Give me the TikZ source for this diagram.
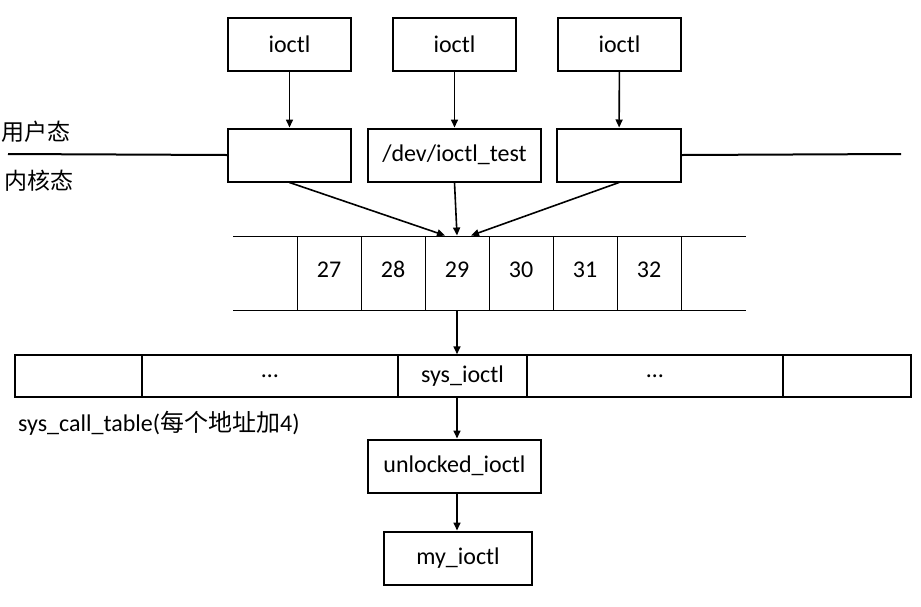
\documentclass[tikz,border=0pt]{standalone}
\usepackage{fontspec}
\setmainfont{Carlito}
\newfontfamily\cjk{Noto Sans CJK SC}
\usetikzlibrary{arrows.meta}
\begin{document}
\begin{tikzpicture}[x=1pt,y=-1pt,
  box/.style={draw, line width=2pt, inner sep=0pt, minimum height=53pt, font=\fontsize{24}{28}\selectfont},
  cell/.style={draw, line width=1pt, inner sep=0pt, minimum width=64pt, minimum height=74pt, text height=2ex, text depth=0pt, font=\fontsize{24}{28}\selectfont},
  slot/.style={draw, line width=1.5pt, inner sep=0pt, minimum height=42pt, font=\fontsize{24}{28}\selectfont},
  arr/.style={-{Triangle[length=8pt,width=7pt]}, line width=1.6pt}]
\useasboundingbox (0,0) rectangle (921,606);
% user space calls
\node[box, minimum width=123pt] (u1) at (289.5,44.5) {ioctl};
\node[box, minimum width=123pt] (u2) at (454.5,44.5) {ioctl};
\node[box, minimum width=123pt] (u3) at (619.5,44.5) {ioctl};
\node[box, minimum width=123pt] (k1) at (289.5,155) {};
\node[box, minimum width=173pt] (k2) at (454.5,155) {/dev/ioctl\_test};
\node[box, minimum width=124pt] (k3) at (619,155) {};
\coordinate (l0) at (8,154);
\coordinate (r0) at (901,154);
\draw[line width=2pt] (l0) -- (k1.west);
\draw[line width=2pt] (k3.east) -- (r0);
\node[font=\cjk\fontsize{23}{26}\selectfont, anchor=west, inner sep=0pt] (us) at (1,132) {用户态};
\node[font=\cjk\fontsize{23}{26}\selectfont, anchor=west, inner sep=0pt] (ks) at (4,181) {内核态};
\draw[arr] (u1) -- (k1);
\draw[arr] (u2) -- (k2);
\draw[arr] (u3) -- (k3);
% syscall numbers
\coordinate (t0) at (233,236);
\coordinate (t1) at (746,236);
\coordinate (b0) at (233,310);
\coordinate (b1) at (746,310);
\draw[line width=1pt] (t0) -- (t1);
\draw[line width=1pt] (b0) -- (b1);
\foreach \n in {27,...,32} \node[cell] (c\n) at ({329+64*(\n-27)},273) {\n};
\draw[arr] (k1.south) -- ([xshift=-12pt]c29.north);
\draw[arr] (k2.south) -- (c29.north);
\draw[arr] (k3.south) -- ([xshift=14pt]c29.north);
% sys_call_table
\node[slot, minimum width=127pt] (s1) at (78.5,376) {};
\node[slot, minimum width=256pt] (s2) at (270,376) {\dots};
\node[slot, minimum width=129pt] (s3) at (462.5,376) {sys\_ioctl};
\node[slot, minimum width=256pt] (s4) at (655,376) {\dots};
\node[slot, minimum width=128pt] (s5) at (847,376) {};
\node[anchor=west, inner sep=0pt, font=\fontsize{24}{28}\selectfont] (tab) at (18,423) {sys\_call\_table({\cjk\fontsize{24}{28}\selectfont 每个地址加}4)};
\draw[arr] (c29.south) -- (c29.south |- s3.north);
\node[box, minimum width=173pt] (ul) at (454.5,466) {unlocked\_ioctl};
\node[box, minimum width=148pt] (my) at (458,558) {my\_ioctl};
\draw[arr] (s3.south -| c29) -- (ul.north -| c29);
\draw[arr] (ul.south -| c29) -- (my.north -| c29);
\end{tikzpicture}
\end{document}
